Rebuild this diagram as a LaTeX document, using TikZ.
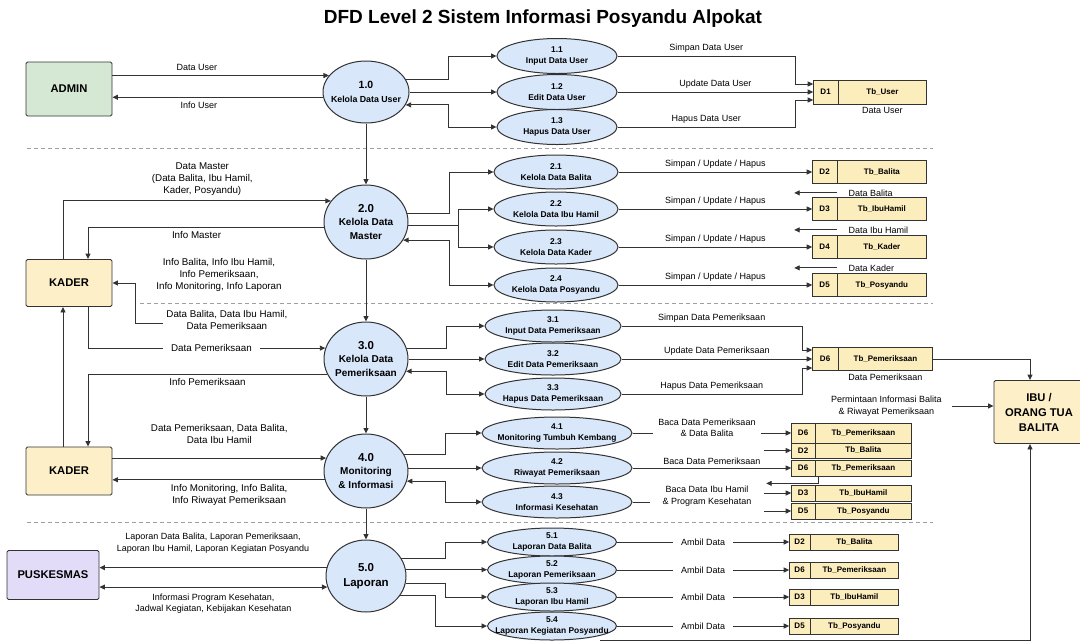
\documentclass[tikz,border=0pt]{standalone}
\usepackage{fontspec}
\setmainfont{Liberation Sans}
\usetikzlibrary{arrows.meta,positioning,shapes.geometric,shapes.multipart}
\definecolor{procfill}{HTML}{D8E7FA}
\definecolor{adminfill}{HTML}{D5E8D4}
\definecolor{kaderfill}{HTML}{FDF0C8}
\definecolor{storefill}{HTML}{FCEDBD}
\definecolor{puskfill}{HTML}{E2DCF8}
\definecolor{linegray}{HTML}{333333}
\tikzset{
  flow/.style={->,draw=linegray,line width=0.9pt},
  flowtwo/.style={<->,draw=linegray,line width=0.9pt},
  flowline/.style={draw=linegray,line width=0.9pt},
  rowsep/.style={draw=gray!75,line width=0.8pt,dash pattern=on 4pt off 3pt},
  dfdtitle/.style={font=\bfseries\fontsize{19}{22}\selectfont},
  lbl/.style={font=\fontsize{9}{11.5}\selectfont,align=center,inner sep=1pt},
  lblleft/.style={font=\fontsize{9.8}{12}\selectfont,align=center,inner sep=1pt},
  proc/.style={ellipse,draw=linegray,line width=1pt,fill=procfill,
    minimum width=84pt,minimum height=74pt,inner xsep=-14pt,inner ysep=0pt,
    align=center,font=\bfseries\fontsize{10}{13.5}\selectfont},
  subproc/.style={ellipse,draw=linegray,line width=1pt,fill=procfill,
    minimum width=#1,minimum height=34pt,inner xsep=-14pt,inner ysep=-2pt,
    align=center,font=\bfseries\fontsize{8.4}{11.5}\selectfont},
  ent/.style={rectangle,rounded corners=1.5pt,draw=linegray,line width=0.9pt,
    minimum width=86pt,minimum height=48pt,align=center,
    font=\bfseries\fontsize{11.2}{15}\selectfont},
  datastore/.style={rectangle split,rectangle split horizontal,rectangle split parts=2,
    draw=linegray,line width=0.8pt,fill=storefill,minimum height=#1,
    inner xsep=4pt,inner ysep=0pt,font=\bfseries\fontsize{8}{10}\selectfont},
}
\begin{document}
\begin{tikzpicture}[x=1pt,y=-1pt,>={Triangle[length=5.5pt,width=5pt]}]
\useasboundingbox (0,0) rectangle (1080,641);
\fill[white] (0,0) rectangle (1080,641);
% \draw[help lines,step=20] (0,0) grid (1080,641);
\node[dfdtitle] (title) at (543,19) {DFD Level 2 Sistem Informasi Posyandu Alpokat};
%
\draw[rowsep] (27,148) -- (933,148);
\draw[rowsep] (140,303) -- (933,303);
\draw[rowsep] (27,522) -- (933,522);
% external entities
\node[ent,fill=adminfill,minimum height=54pt] (admin) at (69,89) {ADMIN};
\node[ent,fill=kaderfill,minimum height=47pt] (kader1) at (69,283) {KADER};
\node[ent,fill=kaderfill] (kader2) at (69,471) {KADER};
\node[ent,fill=puskfill,minimum width=92pt,minimum height=49pt] (pusk) at (53,575) {PUSKESMAS};
\node[ent,fill=kaderfill,minimum width=90pt,minimum height=63pt] (ibu) at (1039,412) {IBU /\\ORANG TUA\\BALITA};
% main processes
\node[proc,minimum width=86pt,minimum height=62pt,font=\bfseries\fontsize{8.8}{14}\selectfont] (p1) at (366,92) {{\fontsize{10.5}{14}\selectfont 1.0}\\Kelola Data User};
\node[proc] (p2) at (366,222) {{\fontsize{11.5}{14}\selectfont 2.0}\\Kelola Data\\Master};
\node[proc] (p3) at (366,359) {{\fontsize{11.5}{14}\selectfont 3.0}\\Kelola Data\\Pemeriksaan};
\node[proc] (p4) at (366,471) {{\fontsize{11.5}{14}\selectfont 4.0}\\Monitoring\\\& Informasi};
\node[proc,minimum width=80pt,minimum height=72pt,font=\bfseries\fontsize{11.5}{15}\selectfont] (p5) at (366,576) {5.0\\Laporan};
% sub processes
\node[subproc=120pt,minimum height=35pt] (s11) at (557,56) {1.1\\Input Data User};
\node[subproc=120pt,minimum height=35pt] (s12) at (557,92) {1.2\\Edit Data User};
\node[subproc=120pt,minimum height=35pt] (s13) at (557,127) {1.3\\Hapus Data User};
%
\node[subproc=124pt] (s21) at (556,172) {2.1\\Kelola Data Balita};
\node[subproc=124pt] (s22) at (556,209) {2.2\\Kelola Data Ibu Hamil};
\node[subproc=124pt] (s23) at (556,247) {2.3\\Kelola Data Kader};
\node[subproc=124pt] (s24) at (556,285) {2.4\\Kelola Data Posyandu};
%
\node[subproc=136pt,minimum height=32pt] (s31) at (553,326) {3.1\\Input Data Pemeriksaan};
\node[subproc=136pt,minimum height=32pt] (s32) at (553,359) {3.2\\Edit Data Pemeriksaan};
\node[subproc=136pt,minimum height=32pt] (s33) at (553,394) {3.3\\Hapus Data Pemeriksaan};
%
\node[subproc=150pt,minimum height=32pt] (s41) at (557,433) {4.1\\Monitoring Tumbuh Kembang};
\node[subproc=150pt,minimum height=32pt] (s42) at (557,468) {4.2\\Riwayat Pemeriksaan};
\node[subproc=150pt,minimum height=32pt] (s43) at (557,502) {4.3\\Informasi Kesehatan};
%
\node[subproc=129pt,minimum height=28pt] (s51) at (552,542) {5.1\\Laporan Data Balita};
\node[subproc=129pt,minimum height=28pt] (s52) at (552,570) {5.2\\Laporan Pemeriksaan};
\node[subproc=129pt,minimum height=28pt] (s53) at (552,597) {5.3\\Laporan Ibu Hamil};
\node[subproc=129pt,minimum height=28pt] (s54) at (552,626) {5.4\\Laporan Kegiatan Posyandu};
% data stores
\node[datastore=24pt] (d1) at (870,92) {\makebox[16pt]{D1}\nodepart{two}\makebox[80pt]{Tb\_User}};
\node[datastore=23pt] (d2) at (869.5,172) {\makebox[16pt]{D2}\nodepart{two}\makebox[81pt]{Tb\_Balita}};
\node[datastore=23pt] (d3) at (869.5,209) {\makebox[16pt]{D3}\nodepart{two}\makebox[81pt]{Tb\_IbuHamil}};
\node[datastore=23pt] (d4) at (869.5,247) {\makebox[16pt]{D4}\nodepart{two}\makebox[81pt]{Tb\_Kader}};
\node[datastore=23pt] (d5) at (869.5,285) {\makebox[16pt]{D5}\nodepart{two}\makebox[81pt]{Tb\_Posyandu}};
\node[datastore=23pt] (d6) at (872.5,359) {\makebox[17pt]{D6}\nodepart{two}\makebox[86pt]{Tb\_Pemeriksaan}};
%
\node[datastore=20pt] (d6a) at (851.5,433) {\makebox[15pt]{D6}\nodepart{two}\makebox[88pt]{Tb\_Pemeriksaan}};
\node[datastore=15pt] (d2b) at (851.5,450.5) {\makebox[15pt]{D2}\nodepart{two}\makebox[88pt]{Tb\_Balita}};
\node[datastore=16pt] (d6b) at (851.5,468) {\makebox[15pt]{D6}\nodepart{two}\makebox[88pt]{Tb\_Pemeriksaan}};
\node[datastore=16pt] (d3b) at (851.5,493) {\makebox[15pt]{D3}\nodepart{two}\makebox[88pt]{Tb\_IbuHamil}};
\node[datastore=16pt] (d5b) at (851.5,511) {\makebox[15pt]{D5}\nodepart{two}\makebox[88pt]{Tb\_Posyandu}};
%
\node[datastore=16pt] (d2c) at (844,542) {\makebox[12pt]{D2}\nodepart{two}\makebox[80pt]{Tb\_Balita}};
\node[datastore=16pt] (d6c) at (844,570) {\makebox[12pt]{D6}\nodepart{two}\makebox[80pt]{Tb\_Pemeriksaan}};
\node[datastore=16pt] (d3c) at (844,597) {\makebox[12pt]{D3}\nodepart{two}\makebox[80pt]{Tb\_IbuHamil}};
\node[datastore=16pt] (d5c) at (844,626) {\makebox[12pt]{D5}\nodepart{two}\makebox[80pt]{Tb\_Posyandu}};
% elbow columns
\coordinate (e1) at (448,0);
\coordinate (f1) at (795,0);
\coordinate (e2) at (449,0);
\coordinate (e2m) at (458,0);
\coordinate (e3) at (446,0);
\coordinate (f3) at (802,0);
\coordinate (e4) at (445,0);
\coordinate (e5) at (445,0);
\coordinate (e5d) at (435,0);
% row 1
\draw[flow] (admin.east |- p1.156) -- node[lbl,above=3pt,pos=0.39]{Data User} (p1.156);
\draw[flow] (p1.-173) -- node[lbl,below=3pt,pos=0.59]{Info User} (admin.east |- p1.-173);
\draw[flow] (p1.17) -- (p1.17 -| e1) |- (s11);
\draw[flow] (p1) -- (s12);
\draw[flowtwo] (p1.-18) -- (p1.-18 -| e1) |- (s13);
\draw[flow] (s11) -- node[lbl,above=2pt]{Simpan Data User} (s11 -| f1) |- ([yshift=8pt]d1.west);
\draw[flow] (s12) -- node[lbl,above=2pt]{Update Data User} (d1);
\draw[flow] (s13) -- node[lbl,above=2pt]{Hapus Data User} (s13 -| f1) |- ([yshift=-8pt]d1.west);
\node[lbl,below=2pt of d1.two south] (d1note) {Data User};
\draw[flow] (p1) -- (p2);
% row 2
\draw[flow] ([xshift=-6pt]kader1.north) |- node[lblleft,above=4pt,pos=0.76]{Data Master\\(Data Balita, Ibu Hamil,\\Kader, Posyandu)} (p2.149);
\draw[flow] (p2.-173) -| node[lblleft,below=3pt,pos=0.27]{Info Master} ([xshift=19pt]kader1.north);
\node[lblleft] (infolbl) at (219,275) {Info Balita, Info Ibu Hamil,\\Info Pemeriksaan,\\Info Monitoring, Info Laporan};
\coordinate (dbal) at (163,323);
\draw[flow] (dbal) node[lblleft,right=2pt,yshift=3pt]{Data Balita, Data Ibu Hamil,\\Data Pemeriksaan} -| ([xshift=23pt]kader1.east) -- (kader1.east);
\draw[flow] (p2.12) -- (p2.12 -| e2) |- (s21);
\draw[flow] (p2.-5) -- (p2.-5 -| e2m) |- (s22);
\draw[flow] (p2.-5 -| e2m) |- (s23);
\draw[flowtwo] (p2.-26) -- (p2.-26 -| e2) |- (s24);
\draw[flow] (s21) -- node[lbl,above=2pt]{Simpan / Update / Hapus} (d2);
\draw[flow] (s22) -- node[lbl,above=2pt]{Simpan / Update / Hapus} (d3);
\draw[flow] (s23) -- node[lbl,above=2pt]{Simpan / Update / Hapus} (d4);
\draw[flow] (s24) -- node[lbl,above=2pt]{Simpan / Update / Hapus} (d5);
\draw[flow] ([xshift=25pt,yshift=-9pt]d2.south west) node[lbl,right=10pt]{Data Balita} -- ([xshift=-18pt,yshift=-9pt]d2.south west);
\draw[flow] ([xshift=25pt,yshift=-9pt]d3.south west) node[lbl,right=10pt]{Data Ibu Hamil} -- ([xshift=-18pt,yshift=-9pt]d3.south west);
\draw[flow] ([xshift=25pt,yshift=-9pt]d4.south west) node[lbl,right=10pt]{Data Kader} -- ([xshift=-18pt,yshift=-9pt]d4.south west);
\draw[flow] (p2) -- (p3);
% row 3
\draw[flow] ([xshift=19pt]kader1.south) |- node[lblleft,fill=white,inner xsep=8pt,pos=0.76]{Data Pemeriksaan} (p3.165);
\draw[flow] (p3.-159) -| node[lblleft,below=3pt,pos=0.25]{Info Pemeriksaan} ([xshift=19pt]kader2.north);
\draw[flow] ([xshift=-6pt]kader2.north) -- ([xshift=-6pt]kader1.south);
\draw[flow] (p3.15) -- (p3.15 -| e3) |- (s31);
\draw[flow] (p3) -- (s32);
\draw[flowtwo] (p3.-17) -- (p3.-17 -| e3) |- (s33);
\draw[flow] (s31) -- node[lbl,above=2pt]{Simpan Data Pemeriksaan} (s31 -| f3) |- ([yshift=9pt]d6.west);
\draw[flow] (s32) -- node[lbl,above=2pt]{Update Data Pemeriksaan} (d6);
\draw[flow] (s33) -- node[lbl,above=2pt]{Hapus Data Pemeriksaan} (s33 -| f3) |- ([yshift=-9pt]d6.west);
\node[lbl,below=2pt of d6.two south] (d6note) {Data Pemeriksaan};
\draw[flow] (d6) -| ([xshift=-9pt]ibu.north);
\coordinate (req) at (952,406);
\draw[flow] (req) node[lbl,left=9pt]{Permintaan Informasi Balita\\\& Riwayat Pemeriksaan} -- (req -| ibu.west);
\draw[flow] (p3) -- (p4);
% row 4
\draw[flow] (kader2.east |- p4.162) -- node[lblleft,above=13pt]{Data Pemeriksaan, Data Balita,\\Data Ibu Hamil} (p4.162);
\draw[flow] (p4.-168) -- node[lblleft,below=3pt,pos=0.45]{Info Monitoring, Info Balita,\\Info Riwayat Pemeriksaan} (kader2.east |- p4.-168);
\draw[flow] (p4.23) -- (p4.23 -| e4) |- (s41);
\draw[flow] (p4.4) -- (p4.4 -| s42.west);
\draw[flowtwo] (p4.-14) -- (p4.-14 -| e4) |- (s43);
\draw[flowline] (s41.east) -- ++(20,0);
\node[lbl] (baca1) at (707,428) {Baca Data Pemeriksaan\\\& Data Balita};
\draw[flow] ([xshift=-30pt]d6a.west) -- (d6a.west);
\draw[flow] ([xshift=-27pt]d2b.west) -- (d2b.west);
\draw[flow] (s42) -- node[lbl,above=2pt]{Baca Data Pemeriksaan} (d6b);
\draw[flow] ([xshift=27pt]d6b.south west) |- ([xshift=-25pt,yshift=-7pt]d6b.south west);
\draw[flowline] (s43.east) -- ++(17,0);
\node[lbl] (baca2) at (707,496) {Baca Data Ibu Hamil\\\& Program Kesehatan};
\draw[flow] ([xshift=-27pt]d3b.west) -- (d3b.west);
\draw[flow] ([xshift=-27pt]d5b.west) -- (d5b.west);
\draw[flow] (p4) -- (p5);
% row 5
\draw[flow] (p5.168) -- node[lbl,above=13pt]{Laporan Data Balita, Laporan Pemeriksaan,\\Laporan Ibu Hamil, Laporan Kegiatan Posyandu} (pusk.east |- p5.168);
\draw[flowtwo] (pusk.east |- p5.-164) -- node[lbl,below=5pt]{Informasi Program Kesehatan,\\Jadwal Kegiatan, Kebijakan Kesehatan} (p5.-164);
\draw[flow] (p5.27) -- (p5.27 -| e5) |- (s51);
\draw[flow] (p5.9) -- (p5.9 -| s52.west);
\draw[flow] (p5.-10) -- (p5.-10 -| e5) |- (s53);
\draw[flow] (p5.-29) -- (p5.-29 -| e5d) |- (s54);
\draw[flow] (s51) -- node[lbl,fill=white,inner xsep=8pt]{Ambil Data} (d2c);
\draw[flow] (s52) -- node[lbl,fill=white,inner xsep=8pt]{Ambil Data} (d6c);
\draw[flow] (s53) -- node[lbl,fill=white,inner xsep=8pt]{Ambil Data} (d3c);
\draw[flow] (s54) -- node[lbl,fill=white,inner xsep=8pt]{Ambil Data} (d5c);
\coordinate (lapbot) at (600,640);
\draw[flow] (lapbot) -| ([xshift=-9pt]ibu.south);
\end{tikzpicture}
\end{document}
